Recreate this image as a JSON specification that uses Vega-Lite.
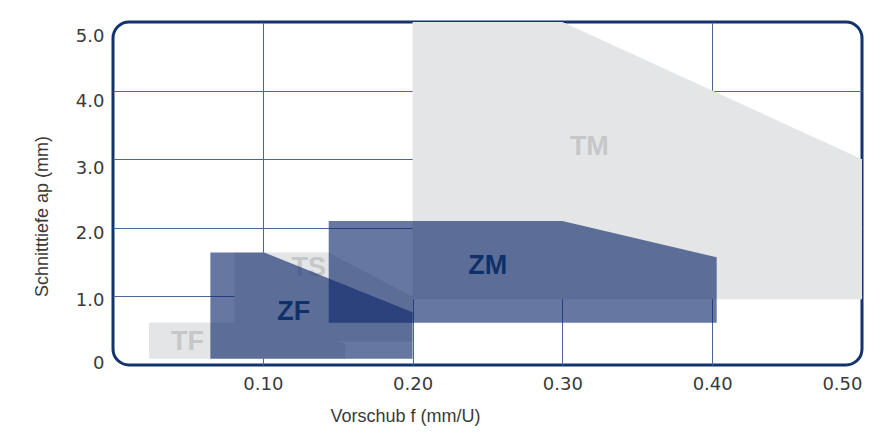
{
  "$schema": "https://vega.github.io/schema/vega-lite/v6.json",
  "width": 749,
  "height": 343,
  "autosize": {"type": "none"},
  "padding": {"left": 113, "top": 22, "right": 23, "bottom": 73},
  "background": "white",
  "config": {
    "view": {"stroke": "#12336c", "strokeWidth": 3, "cornerRadius": 16},
    "axis": {
      "grid": true,
      "gridColor": "#4a6698",
      "gridWidth": 1,
      "domain": false,
      "ticks": false,
      "labelFont": "DejaVu Sans",
      "labelFontSize": 18,
      "labelColor": "#3a3a3a",
      "titleFont": "Liberation Sans",
      "titleFontSize": 18,
      "titleFontWeight": "normal",
      "titleColor": "#3a3a3a",
      "zindex": 1
    }
  },
  "datasets": {
    "regions": [
      {"region": "TM", "kind": "T", "f": 0.2, "ap": 5.0, "ap0": 0.96},
      {"region": "TM", "kind": "T", "f": 0.3, "ap": 5.0, "ap0": 0.96},
      {"region": "TM", "kind": "T", "f": 0.5, "ap": 3.0, "ap0": 0.96},
      {"region": "TF", "kind": "T", "f": 0.024, "ap": 0.62, "ap0": 0.09},
      {"region": "TF", "kind": "T", "f": 0.1, "ap": 0.62, "ap0": 0.09},
      {"region": "TF", "kind": "T", "f": 0.155, "ap": 0.31, "ap0": 0.09},
      {"region": "TS", "kind": "T", "f": 0.081, "ap": 1.64, "ap0": 0.34},
      {"region": "TS", "kind": "T", "f": 0.144, "ap": 1.64, "ap0": 0.34},
      {"region": "TS", "kind": "T", "f": 0.2, "ap": 1.0, "ap0": 0.34},
      {"region": "ZF", "kind": "Z", "f": 0.065, "ap": 1.64, "ap0": 0.09},
      {"region": "ZF", "kind": "Z", "f": 0.101, "ap": 1.64, "ap0": 0.09},
      {"region": "ZF", "kind": "Z", "f": 0.2, "ap": 0.77, "ap0": 0.09},
      {"region": "ZM", "kind": "Z", "f": 0.144, "ap": 2.1, "ap0": 0.615},
      {"region": "ZM", "kind": "Z", "f": 0.3, "ap": 2.1, "ap0": 0.615},
      {"region": "ZM", "kind": "Z", "f": 0.403, "ap": 1.57, "ap0": 0.615}
    ],
    "labels": [
      {"label": "TM", "kind": "T", "f": 0.318, "ap": 3.175},
      {"label": "TF", "kind": "T", "f": 0.0497, "ap": 0.333},
      {"label": "TS", "kind": "T", "f": 0.1307, "ap": 1.41},
      {"label": "ZF", "kind": "Z", "f": 0.1207, "ap": 0.771},
      {"label": "ZM", "kind": "Z", "f": 0.2502, "ap": 1.438}
    ]
  },
  "encoding": {
    "x": {
      "field": "f",
      "type": "quantitative",
      "scale": {"domain": [0, 0.5], "nice": false, "zero": false},
      "axis": {
        "title": "Vorschub f (mm/U)",
        "values": [0.1, 0.2, 0.3, 0.4, 0.5],
        "labelExpr": "format(datum.value, '.2f')",
        "labelPadding": 10,
        "gridOpacity": {"condition": {"test": "datum.value >= 0.5", "value": 0}, "value": 1},
        "titleX": 292,
        "titleY": 51,
        "titleAlign": "center",
        "titleBaseline": "middle"
      }
    },
    "y": {
      "field": "ap",
      "type": "quantitative",
      "scale": {"domain": [0, 5], "nice": false, "zero": false},
      "axis": {
        "title": "Schnitttiefe ap (mm)",
        "values": [0, 1, 2, 3, 4, 5],
        "labelExpr": "datum.value == 0 ? '0' : format(datum.value, '.1f')",
        "labelPadding": 9,
        "labelOffset": {
          "condition": [
            {"test": "datum.value == 0", "value": -2},
            {"test": "datum.value == 1", "value": 4},
            {"test": "datum.value == 2", "value": 6},
            {"test": "datum.value == 3", "value": 9},
            {"test": "datum.value == 4", "value": 11}
          ],
          "value": 14
        },
        "gridOpacity": {"condition": {"test": "datum.value == 0 || datum.value == 5", "value": 0}, "value": 1},
        "titleX": -71,
        "titleY": 194,
        "titleAlign": "center",
        "titleBaseline": "middle"
      }
    }
  },
  "layer": [
    {
      "data": {"name": "regions"},
      "transform": [{"filter": "datum.kind == 'T'"}],
      "mark": {"type": "area", "color": "#e4e5e7", "opacity": 1, "interpolate": "linear"},
      "encoding": {
        "y2": {"field": "ap0"},
        "detail": {"field": "region"}
      }
    },
    {
      "data": {"name": "labels"},
      "transform": [{"filter": "datum.kind == 'T'"}],
      "mark": {"type": "text", "font": "Liberation Sans", "fontWeight": "bold", "fontSize": 27, "color": "#c6c7c9", "align": "center", "baseline": "middle"},
      "encoding": {"text": {"field": "label"}}
    },
    {
      "data": {"name": "regions"},
      "transform": [{"filter": "datum.kind == 'Z'"}],
      "mark": {"type": "area", "color": "#102a6c", "opacity": 0.64, "interpolate": "linear"},
      "encoding": {
        "y2": {"field": "ap0"},
        "detail": {"field": "region"}
      }
    },
    {
      "data": {"name": "labels"},
      "transform": [{"filter": "datum.kind == 'Z'"}],
      "mark": {"type": "text", "font": "Liberation Sans", "fontWeight": "bold", "fontSize": 27, "color": "#0f3068", "align": "center", "baseline": "middle"},
      "encoding": {"text": {"field": "label"}}
    }
  ]
}
